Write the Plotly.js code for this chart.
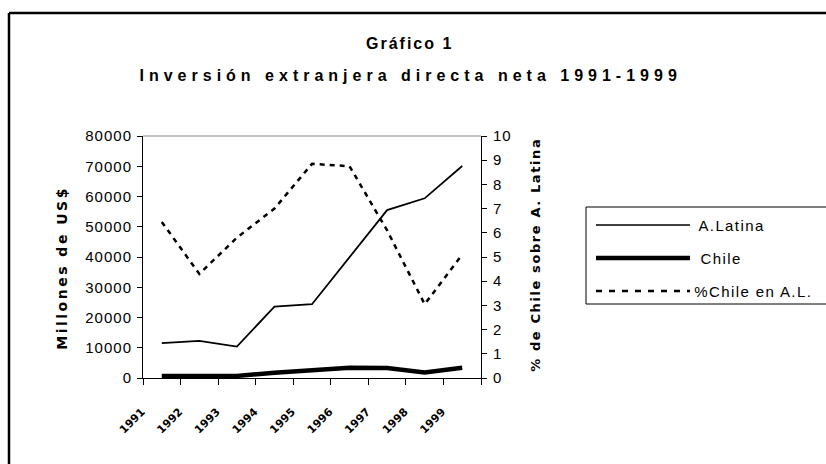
<!DOCTYPE html>
<html>
<head>
<meta charset="utf-8">
<script src="https://cdn.plot.ly/plotly-3.0.1.min.js"></script>
<style>
html,body{margin:0;padding:0;background:#fff;}
#chart{width:826px;height:464px;}
</style>
</head>
<body>
<div id="chart"></div>
<script>
// ---- data ----
const years = ['1991','1992','1993','1994','1995','1996','1997','1998','1999'];
const aLatina = [11500, 12300, 10400, 23600, 24400, 40000, 55500, 59400, 70100];
const chile = [700, 650, 700, 1750, 2400, 3400, 3300, 1850, 3400];
const pctChile = [6.45, 4.3, 5.8, 7.0, 8.85, 8.75, 6.1, 3.05, 5.1];
const seriesNames = ['A.Latina', 'Chile', '%Chile en A.L.'];
const yTicks = [0, 10000, 20000, 30000, 40000, 50000, 60000, 70000, 80000];
const y2Ticks = [0, 1, 2, 3, 4, 5, 6, 7, 8, 9, 10];

// ---- geometry helpers (pixel -> paper) ----
const L = 143, R = 481, T = 136, B = 378;
const px = x => (x - L) / (R - L);
const py = y => (B - y) / (B - T);

const FONT = 'Liberation Sans, Arial, sans-serif';

const traces = [
  {x: years, y: aLatina, name: seriesNames[0], type: 'scatter', mode: 'lines',
   line: {color: '#000', width: 1.8}, yaxis: 'y', showlegend: false},
  {x: years, y: chile, name: seriesNames[1], type: 'scatter', mode: 'lines',
   line: {color: '#000', width: 4.5}, yaxis: 'y', showlegend: false},
  {x: years, y: pctChile, name: seriesNames[2], type: 'scatter', mode: 'lines',
   line: {color: '#000', width: 2.5, dash: '5px,5px'}, yaxis: 'y2', showlegend: false}
];

// custom legend
const legY = [225, 258, 291];
const legDash = ['solid', 'solid', '6px,7px'];
const legW = [1.5, 4.5, 2.5];
const shapes = [
  // outer frame (top + left)
  {type: 'line', xref: 'paper', yref: 'paper', x0: px(9), x1: px(830), y0: py(13), y1: py(13), line: {color: '#000', width: 2.5}},
  {type: 'line', xref: 'paper', yref: 'paper', x0: px(9), x1: px(9), y0: py(13), y1: py(470), line: {color: '#000', width: 2.5}},
  // plot top border
  {type: 'line', xref: 'paper', yref: 'paper', x0: 0, x1: 1, y0: 1, y1: 1, line: {color: '#888', width: 1}},
  // legend box
  {type: 'rect', xref: 'paper', yref: 'paper', x0: px(586), x1: px(840), y0: py(207), y1: py(304), line: {color: '#000', width: 1}, fillcolor: 'rgba(0,0,0,0)'}
];
const annotations = [
  {xref: 'paper', yref: 'paper', x: px(409), y: py(43), text: '<b>Gráfico 1</b>', showarrow: false,
   font: {family: FONT, size: 16, color: '#000'}, xanchor: 'center', yanchor: 'middle'},
  {xref: 'paper', yref: 'paper', x: px(410), y: py(75), text: '<b>Inversión extranjera directa neta 1991-1999</b>', showarrow: false,
   font: {family: FONT, size: 16, color: '#000'}, xanchor: 'center', yanchor: 'middle'},
  {xref: 'paper', yref: 'paper', x: px(62), y: py(268), text: '<b>Millones de US$</b>', textangle: -90, showarrow: false,
   font: {family: 'DejaVu Sans, sans-serif', size: 14, color: '#000'}, xanchor: 'center', yanchor: 'middle'},
  {xref: 'paper', yref: 'paper', x: px(535), y: py(255), text: '<b>% de Chile sobre A. Latina</b>', textangle: -90, showarrow: false,
   font: {family: 'DejaVu Sans, sans-serif', size: 13, color: '#000'}, xanchor: 'center', yanchor: 'middle'}
];
seriesNames.forEach((n, i) => {
  shapes.push({type: 'line', xref: 'paper', yref: 'paper', x0: px(596), x1: px(690), y0: py(legY[i]), y1: py(legY[i]),
    line: {color: '#000', width: legW[i], dash: legDash[i]}});
  annotations.push({xref: 'paper', yref: 'paper', x: px(702), y: py(legY[i]), text: n, showarrow: false,
    font: {family: FONT, size: 15, color: '#000'}, xanchor: 'left', yanchor: 'middle'});
});

const layout = {
  width: 826, height: 464,
  margin: {l: L, r: 826 - R, t: T, b: 464 - B, pad: 0},
  paper_bgcolor: '#fff', plot_bgcolor: '#fff',
  showlegend: false,
  font: {family: FONT, color: '#000'},
  xaxis: {
    type: 'category', range: [-0.5, 8.5], tickson: 'boundaries',
    showline: true, linecolor: '#000', linewidth: 1, showgrid: false, zeroline: false,
    ticks: 'outside', ticklen: 6, tickcolor: '#000', tickwidth: 1,
    tickangle: -45, tickfont: {family: 'DejaVu Sans, sans-serif', size: 11, color: '#000', weight: 'bold'},
    ticklabelstandoff: 22, ticklabelshift: -20
  },
  yaxis: {
    range: [0, 80000], tickvals: yTicks, tickformat: 'd',
    showline: true, linecolor: '#000', linewidth: 1, showgrid: false, zeroline: false,
    ticks: 'outside', ticklen: 5, tickcolor: '#000',
    tickfont: {family: FONT, size: 15, color: '#000'}, ticklabelstandoff: 2
  },
  yaxis2: {
    range: [0, 10], tickvals: y2Ticks, overlaying: 'y', side: 'right',
    showline: true, linecolor: '#000', linewidth: 1, showgrid: false, zeroline: false,
    ticks: 'outside', ticklen: 5, tickcolor: '#000',
    tickfont: {family: FONT, size: 15, color: '#000'}, ticklabelstandoff: 3
  },
  shapes: shapes,
  annotations: annotations
};

Plotly.newPlot('chart', traces, layout, {displayModeBar: false, staticPlot: true}).then(() => {
  document.querySelectorAll('.annotation-text').forEach(el => {
    const t = el.textContent;
    if (t.indexOf('Inversión') === 0) el.style.letterSpacing = '5px';
    else if (t.indexOf('Gráfico') === 0) el.style.letterSpacing = '2px';
    else if (t.indexOf('Millones') === 0) el.style.letterSpacing = '2.5px';
    else if (t.indexOf('% de') === 0) el.style.letterSpacing = '1.6px';
    else el.style.letterSpacing = '1.4px';
  });
  document.querySelectorAll('.ytick text, .y2tick text').forEach(el => { el.style.letterSpacing = '1px'; });
});
</script>
</body>
</html>
